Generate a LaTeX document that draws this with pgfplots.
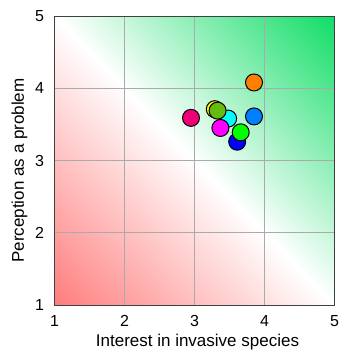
\documentclass[border=0pt]{standalone}
\usepackage{pgfplots}
\pgfplotsset{compat=1.18}
\usepackage{fontspec}
\setmainfont{Liberation Sans}
\definecolor{cDeepPink}{HTML}{EE0077}
\definecolor{cOrange}{HTML}{FF8000}
\definecolor{cDodger}{HTML}{0080FF}
\definecolor{cYellow}{HTML}{FFEE00}
\definecolor{cYGreen}{HTML}{66BB11}
\definecolor{cCyan}{HTML}{00FFFF}
\definecolor{cMagenta}{HTML}{FF00FF}
\definecolor{cBlue}{HTML}{0000FF}
\definecolor{cGreen}{HTML}{00FF00}
\definecolor{cFrame}{HTML}{404040}
\definecolor{cGrid}{HTML}{AAAAAA}
\begin{document}
\begin{tikzpicture}
\begin{axis}[
  set layers=standard,
  scale only axis,
  width=280pt, height=289pt,
  xmin=1, xmax=5, ymin=1, ymax=5,
  xtick={1,2,3,4,5}, ytick={1,2,3,4,5},
  grid=major,
  major grid style={draw=cGrid, line width=0.9pt},
  axis line style={draw=cFrame, line width=0.9pt},
  major tick length=0pt,
  tick label style={font=\fontsize{16}{18}\selectfont},
  /pgf/number format/assume math mode=true,
  xticklabel style={yshift=-7pt},
  yticklabel style={xshift=-7pt},
  label style={font=\fontsize{17}{20}\selectfont},
  xlabel={Interest in invasive species},
  ylabel={Perception as a problem},
  xlabel style={at={(axis description cs:0.5107,-0.1453)}, anchor=base},
  ylabel style={at={(axis description cs:-0.109,0.4654)}, anchor=base},
  colormap={rwg}{rgb255=(255,125,125) rgb255=(255,255,255) rgb255=(16,221,102)},
  point meta min=2, point meta max=10,
  every axis plot/.append style={mark size=8.5pt},
]
\addplot[surf, shader=interp, on layer=axis background, point meta=explicit] table[meta=c] {
x y c
1 1 2
5 1 6

1 5 6
5 5 10
};
\addplot[only marks, mark=*, mark options={fill=cDeepPink, draw=black, line width=1pt}] coordinates {(2.95,3.59)};
\addplot[only marks, mark=*, mark options={fill=cOrange, draw=black, line width=1pt}] coordinates {(3.85,4.08)};
\addplot[only marks, mark=*, mark options={fill=cDodger, draw=black, line width=1pt}] coordinates {(3.85,3.61)};
\addplot[only marks, mark=*, mark options={fill=cYellow, draw=black, line width=1pt}] coordinates {(3.29,3.71)};
\addplot[only marks, mark=*, mark options={fill=cCyan, draw=black, line width=1pt}] coordinates {(3.48,3.58)};
\addplot[only marks, mark=*, mark options={fill=cBlue, draw=black, line width=1pt}] coordinates {(3.61,3.26)};
\addplot[only marks, mark=*, mark options={fill=cMagenta, draw=black, line width=1pt}] coordinates {(3.37,3.45)};
\addplot[only marks, mark=*, mark options={fill=cGreen, draw=black, line width=1pt}] coordinates {(3.66,3.39)};
\addplot[only marks, mark=*, mark options={fill=cYGreen, draw=black, line width=1pt}] coordinates {(3.33,3.69)};
\end{axis}
\useasboundingbox ([xshift=-54.5pt,yshift=-52pt]current axis.south west) rectangle ([xshift=22.5pt,yshift=16pt]current axis.north east);
\end{tikzpicture}
\end{document}
